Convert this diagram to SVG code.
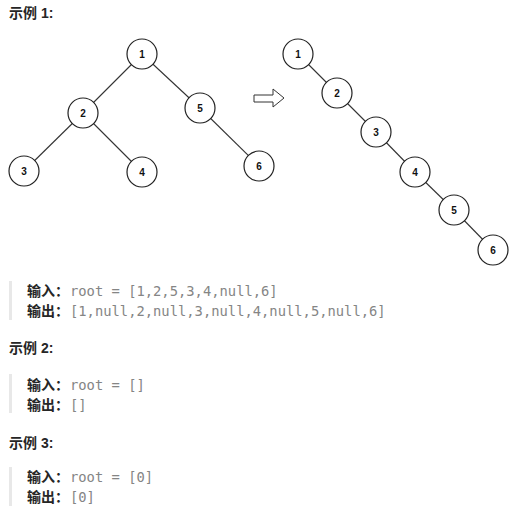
<svg xmlns="http://www.w3.org/2000/svg" width="518" height="517" viewBox="0 0 518 517">
<style>
.edge{stroke:#333;stroke-width:1.1;fill:none}
.node circle{fill:#fff;stroke:#222;stroke-width:1.2}
.node text{font-family:"Liberation Sans",Arial,sans-serif;font-size:10px;font-weight:bold;fill:#111;text-anchor:middle}
.title{font-family:"Liberation Sans","Noto Sans CJK SC",sans-serif;font-size:14px;font-weight:bold;fill:#262626}
.lbl{font-family:"Liberation Sans","Noto Sans CJK SC",sans-serif;font-size:14px;font-weight:bold;fill:#262626}
.code{font-family:"DejaVu Sans Mono","Liberation Mono",monospace;font-size:13.8px;fill:#858585}
.bar{fill:#e8e8e8}
</style>
<rect width="518" height="517" fill="#fff"/>
<text class="title" x="9" y="18">示例 1:</text>
<g id="connectors">
<line class="edge" x1="142" y1="54" x2="83" y2="113"/>
<line class="edge" x1="142" y1="54" x2="200" y2="108"/>
<line class="edge" x1="83" y1="113" x2="24" y2="171"/>
<line class="edge" x1="83" y1="113" x2="142" y2="172"/>
<line class="edge" x1="200" y1="108" x2="259" y2="166"/>
<line class="edge" x1="298" y1="54" x2="337" y2="93"/>
<line class="edge" x1="337" y1="93" x2="376" y2="132"/>
<line class="edge" x1="376" y1="132" x2="415" y2="172"/>
<line class="edge" x1="415" y1="172" x2="454" y2="210"/>
<line class="edge" x1="454" y1="210" x2="493" y2="250"/>
</g>
<g id="a1" class="node"><circle cx="142" cy="54" r="15"/><text x="142" y="58">1</text></g>
<g id="a2" class="node"><circle cx="83" cy="113" r="15"/><text x="83" y="117">2</text></g>
<g id="a5" class="node"><circle cx="200" cy="108" r="15"/><text x="200" y="112">5</text></g>
<g id="a3" class="node"><circle cx="24" cy="171" r="15"/><text x="24" y="175">3</text></g>
<g id="a4" class="node"><circle cx="142" cy="172" r="15"/><text x="142" y="176">4</text></g>
<g id="a6" class="node"><circle cx="259" cy="166" r="15"/><text x="259" y="170">6</text></g>
<g id="arrow"><polygon points="254,95 273,95 273,89 284,98 273,107 273,102 254,102" fill="#fff" stroke="#333" stroke-width="1"/></g>
<g id="b1" class="node"><circle cx="298" cy="54" r="15"/><text x="298" y="58">1</text></g>
<g id="b2" class="node"><circle cx="337" cy="93" r="15"/><text x="337" y="97">2</text></g>
<g id="b3" class="node"><circle cx="376" cy="132" r="15"/><text x="376" y="136">3</text></g>
<g id="b4" class="node"><circle cx="415" cy="172" r="15"/><text x="415" y="176">4</text></g>
<g id="b5" class="node"><circle cx="454" cy="210" r="15"/><text x="454" y="214">5</text></g>
<g id="b6" class="node"><circle cx="493" cy="250" r="15"/><text x="493" y="254">6</text></g>
<rect class="bar" x="9" y="281" width="3" height="39"/>
<text class="lbl" x="27" y="296">输入：</text>
<text class="code" x="70" y="296">root = [1,2,5,3,4,null,6]</text>
<text class="lbl" x="27" y="316">输出：</text>
<text class="code" x="70" y="316">[1,null,2,null,3,null,4,null,5,null,6]</text>
<text class="title" x="9" y="353">示例 2:</text>
<rect class="bar" x="9" y="374" width="3" height="39"/>
<text class="lbl" x="27" y="390">输入：</text>
<text class="code" x="70" y="390">root = []</text>
<text class="lbl" x="27" y="410">输出：</text>
<text class="code" x="70" y="410">[]</text>
<text class="title" x="9" y="448">示例 3:</text>
<rect class="bar" x="9" y="467" width="3" height="39"/>
<text class="lbl" x="27" y="482">输入：</text>
<text class="code" x="70" y="482">root = [0]</text>
<text class="lbl" x="27" y="502">输出：</text>
<text class="code" x="70" y="502">[0]</text>
</svg>
